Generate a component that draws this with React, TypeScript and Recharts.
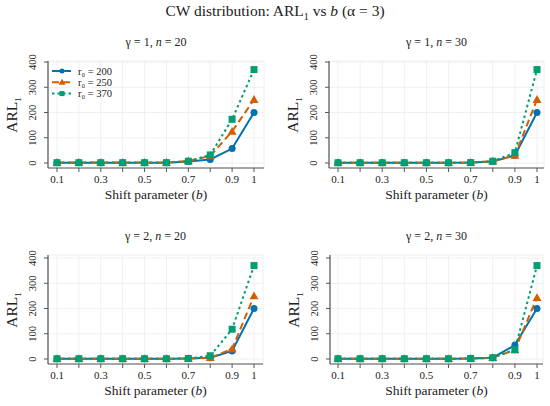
import React from 'react';
import { LineChart, Line, XAxis, YAxis, CartesianGrid, Legend } from 'recharts';

// shift parameter b
const shiftValues = [0.1, 0.2, 0.3, 0.4, 0.5, 0.6, 0.7, 0.8, 0.9, 1];
const xTickLabels = ['0.1', '', '0.3', '', '0.5', '', '0.7', '', '0.9', '1'];
const yTicks = [0, 100, 200, 300, 400];

const seriesNames = ['r₀ = 200', 'r₀ = 250', 'r₀ = 370'];

// gamma = 1, n = 20
const g1n20_r200 = [1, 1, 1, 1, 1, 1, 6, 14, 57, 200];
const g1n20_r250 = [1.5, 1.5, 1.5, 1.5, 1.5, 1.5, 8, 28, 125, 251];
const g1n20_r370 = [1.2, 1.2, 1.2, 1.2, 1.2, 1.3, 7, 32, 173, 370];

// gamma = 1, n = 30
const g1n30_r200 = [1, 1, 1, 1, 1, 1, 1.5, 6, 30, 200];
const g1n30_r250 = [1, 1, 1, 1, 1, 1, 1.5, 7, 30, 251];
const g1n30_r370 = [1, 1, 1, 1, 1, 1, 1.5, 7, 41, 370];

// gamma = 2, n = 20
const g2n20_r200 = [1, 1, 1, 1, 1, 1, 2, 5, 32, 200];
const g2n20_r250 = [1, 1, 1, 1, 1, 1, 2, 5, 40, 250];
const g2n20_r370 = [1, 1, 1, 1, 1, 1, 2, 13, 118, 370];

// gamma = 2, n = 30
const g2n30_r200 = [1, 1, 1, 1, 1, 1, 2, 5, 55, 200];
const g2n30_r250 = [1, 1, 1, 1, 1, 1, 2, 5, 36, 243];
const g2n30_r370 = [1, 1, 1, 1, 1, 1, 2, 5, 37, 370];

const BLUE = '#0072B2';
const ORANGE = '#D55E00';
const GREEN = '#009E73';
const FRAME = '#555555';
const FONT = '"Liberation Serif", "DejaVu Serif", serif';

const buildRows = (a: number[], b: number[], c: number[]) =>
    shiftValues.map((x, i) => ({ x, r200: a[i], r250: b[i], r370: c[i] }));

const CircleDot = (props: any) => {
    const { cx, cy, index } = props;
    return <circle key={`c-${index}`} cx={cx} cy={cy} r={3.5} fill={BLUE} />;
};

const TriangleDot = (props: any) => {
    const { cx, cy, index } = props;
    const s = 4.5;
    return (
        <polygon
            key={`t-${index}`}
            points={`${cx},${cy - s} ${cx - s},${cy + s * 0.75} ${cx + s},${cy + s * 0.75}`}
            fill={ORANGE}
        />
    );
};

const SquareDot = (props: any) => {
    const { cx, cy, index } = props;
    return <rect key={`s-${index}`} x={cx - 3.5} y={cy - 3.5} width={7} height={7} fill={GREEN} />;
};

const YTick = (props: any) => {
    const { x, y, payload } = props;
    return (
        <text
            x={x}
            y={y}
            transform={`rotate(-90 ${x} ${y})`}
            textAnchor="middle"
            fontSize={10.5}
            fill="#222"
            fontFamily={FONT}
        >
            {payload.value}
        </text>
    );
};

const legendLines = [
    { color: BLUE, dash: undefined, marker: 'circle' },
    { color: ORANGE, dash: '7 4', marker: 'triangle' },
    { color: GREEN, dash: '2.5 3', marker: 'square' },
];

const LegendBox = () => (
    <svg width={75} height={36} style={{ display: 'block' }}>
        {legendLines.map((l, i) => {
            const y = 6 + i * 11.3;
            return (
                <g key={i}>
                    <line x1={0} x2={19} y1={y} y2={y} stroke={l.color} strokeWidth={2} strokeDasharray={l.dash} />
                    {l.marker === 'circle' && <circle cx={10} cy={y} r={2.5} fill={l.color} />}
                    {l.marker === 'triangle' && (
                        <polygon points={`10,${y - 3.5} 6.5,${y + 2.5} 13.5,${y + 2.5}`} fill={l.color} />
                    )}
                    {l.marker === 'square' && <rect x={7.5} y={y - 2.5} width={5} height={5} fill={l.color} />}
                    <text x={26} y={y + 3.5} fontSize={10.5} fill="#222" fontFamily={FONT}>
                        {seriesNames[i]}
                    </text>
                </g>
            );
        })}
    </svg>
);

interface PanelProps {
    left: number;
    top: number;
    title: React.ReactNode;
    rows: any[];
    box: { l: number; r: number; t: number; b: number };
    xPad: { left: number; right: number };
    yPad: { top: number; bottom: number };
    showLegend?: boolean;
}

function Panel({ left, top, title, rows, box, xPad, yPad, showLegend }: PanelProps) {
    const width = 275;
    const height = 206;
    const yAxisWidth = box.l;
    const xAxisHeight = 38;
    return (
        <div style={{ position: 'absolute', left, top, width, height }}>
            <div
                style={{
                    position: 'absolute',
                    left: box.l,
                    width: box.r - box.l,
                    top: box.t - 26,
                    textAlign: 'center',
                    fontSize: 12,
                    fontFamily: FONT,
                    color: '#222',
                }}
            >
                {title}
            </div>
            <div
                style={{
                    position: 'absolute',
                    left: box.l,
                    width: box.r - box.l,
                    top: box.b + 19,
                    textAlign: 'center',
                    fontSize: 13.5,
                    fontFamily: FONT,
                    color: '#222',
                }}
            >
                Shift parameter (<i>b</i>)
            </div>
            <div
                style={{
                    position: 'absolute',
                    left: box.l - 55,
                    top: (box.t + box.b) / 2 - 10,
                    width: 40,
                    textAlign: 'center',
                    transform: 'rotate(-90deg)',
                    fontSize: 15.5,
                    fontFamily: FONT,
                    color: '#222',
                }}
            >
                ARL<sub style={{ fontSize: 9 }}>1</sub>
            </div>
            <LineChart
                width={width}
                height={height}
                data={rows}
                margin={{ top: box.t, right: width - box.r, left: 0, bottom: height - box.b - xAxisHeight }}
            >
                <CartesianGrid stroke="#ececec" strokeWidth={0.8} />
                <XAxis
                    dataKey="x"
                    type="number"
                    domain={[0.1, 1]}
                    ticks={shiftValues}
                    tickFormatter={(_v: any, i: number) => xTickLabels[i]}
                    padding={xPad}
                    height={xAxisHeight}
                    tickSize={4}
                    tickMargin={3}
                    tick={{ fontSize: 11, fill: '#222', fontFamily: FONT }}
                    stroke={FRAME}
                    axisLine={{ stroke: FRAME, strokeWidth: 1.2 }}
                    interval={0}
                />
                <XAxis
                    xAxisId="top"
                    orientation="top"
                    dataKey="x"
                    type="number"
                    domain={[0.1, 1]}
                    height={0}
                    tick={false}
                    tickLine={false}
                    axisLine={{ stroke: FRAME, strokeWidth: 1.2 }}
                />
                <YAxis
                    type="number"
                    domain={[0, 400]}
                    ticks={yTicks}
                    width={yAxisWidth}
                    padding={yPad}
                    tickSize={4}
                    tickMargin={8}
                    tick={<YTick />}
                    stroke={FRAME}
                    axisLine={{ stroke: FRAME, strokeWidth: 1.2 }}
                    interval={0}
                />
                <YAxis
                    yAxisId="right"
                    orientation="right"
                    type="number"
                    domain={[0, 400]}
                    width={0}
                    tick={false}
                    tickLine={false}
                    axisLine={{ stroke: FRAME, strokeWidth: 1.2 }}
                />
                {showLegend && (
                    <Legend
                        layout="vertical"
                        verticalAlign="middle"
                        align="center"
                        content={() => <LegendBox />}
                        wrapperStyle={{ left: box.l + 4, top: box.t + 4, width: 75, height: 36 }}
                    />
                )}
                <Line
                    dataKey="r200"
                    stroke={BLUE}
                    strokeWidth={2}
                    dot={CircleDot}
                    activeDot={false}
                    isAnimationActive={false}
                />
                <Line
                    dataKey="r250"
                    stroke={ORANGE}
                    strokeWidth={2}
                    strokeDasharray="7 4"
                    dot={TriangleDot}
                    activeDot={false}
                    isAnimationActive={false}
                />
                <Line
                    dataKey="r370"
                    stroke={GREEN}
                    strokeWidth={2}
                    strokeDasharray="2.5 3"
                    dot={SquareDot}
                    activeDot={false}
                    isAnimationActive={false}
                />
            </LineChart>
        </div>
    );
}

export default function App() {
    return (
        <div
            style={{
                position: 'absolute',
                left: 0,
                top: 0,
                width: 550,
                height: 406,
                background: '#fff',
                fontFamily: FONT,
                overflow: 'hidden',
            }}
        >
            <div
                style={{
                    position: 'absolute',
                    left: 0,
                    width: 550,
                    top: 2,
                    textAlign: 'center',
                    fontSize: 15.5,
                    color: '#222',
                }}
            >
                CW distribution: ARL<sub style={{ fontSize: 10 }}>1</sub> vs <i>b</i> (α = 3)
            </div>
            <Panel
                left={0}
                top={0}
                title={<>γ = 1, <i>n</i> = 20</>}
                rows={buildRows(g1n20_r200, g1n20_r250, g1n20_r370)}
                box={{ l: 48, r: 264, t: 61, b: 168 }}
                xPad={{ left: 9, right: 10 }}
                yPad={{ top: 1, bottom: 5 }}
                showLegend
            />
            <Panel
                left={275}
                top={0}
                title={<>γ = 1, <i>n</i> = 30</>}
                rows={buildRows(g1n30_r200, g1n30_r250, g1n30_r370)}
                box={{ l: 54, r: 269, t: 61, b: 168 }}
                xPad={{ left: 9, right: 7 }}
                yPad={{ top: 1, bottom: 5 }}
            />
            <Panel
                left={0}
                top={200}
                title={<>γ = 2, <i>n</i> = 20</>}
                rows={buildRows(g2n20_r200, g2n20_r250, g2n20_r370)}
                box={{ l: 48, r: 263, t: 55, b: 164 }}
                xPad={{ left: 9, right: 9 }}
                yPad={{ top: 3, bottom: 5 }}
            />
            <Panel
                left={275}
                top={200}
                title={<>γ = 2, <i>n</i> = 30</>}
                rows={buildRows(g2n30_r200, g2n30_r250, g2n30_r370)}
                box={{ l: 55, r: 268, t: 55, b: 164 }}
                xPad={{ left: 8, right: 6 }}
                yPad={{ top: 3, bottom: 5 }}
            />
        </div>
    );
}
